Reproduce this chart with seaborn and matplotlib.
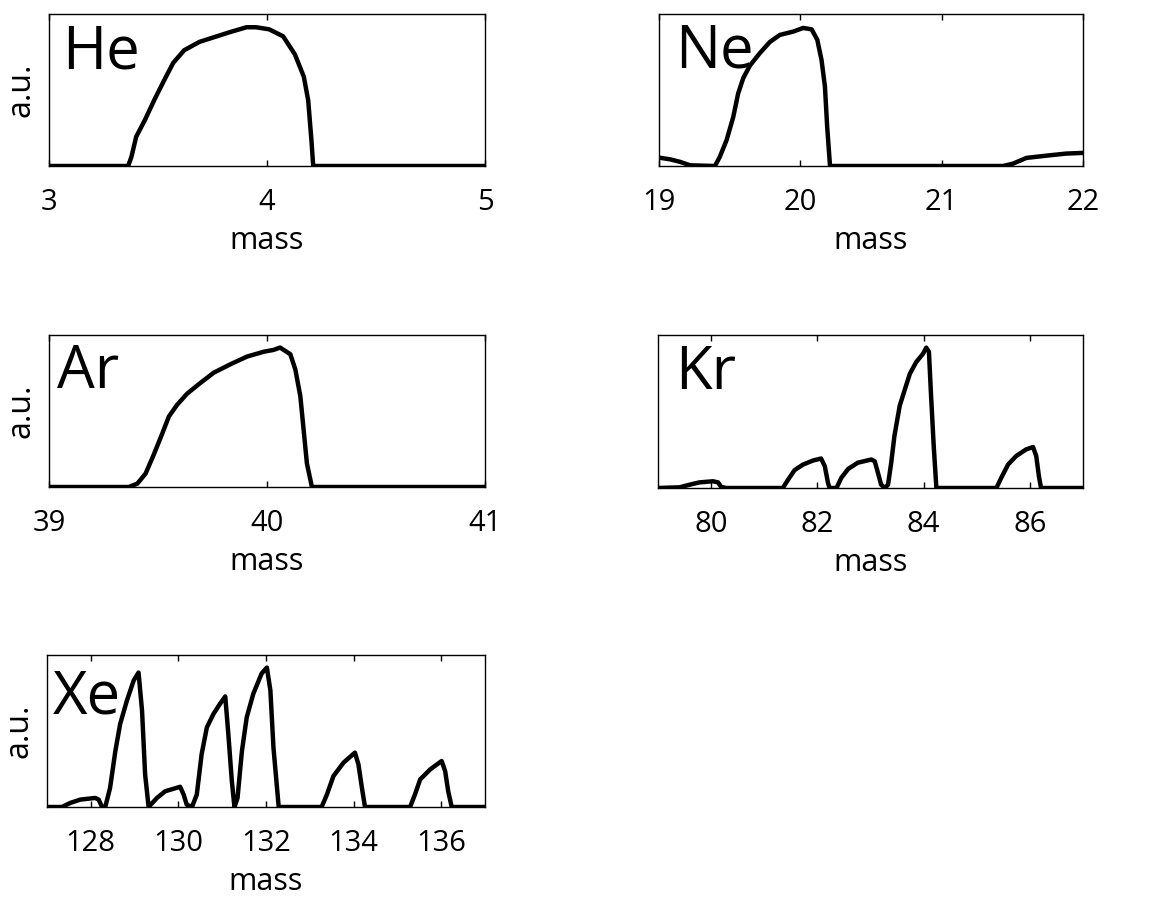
import numpy as np
import pandas as pd
import matplotlib
matplotlib.use("Agg")
import matplotlib.pyplot as plt
import seaborn as sns

# mass vs normalised intensity
he_mass = [3.0, 3.363, 3.378, 3.40, 3.44, 3.485, 3.53, 3.57, 3.62, 3.69, 3.75, 3.83, 3.906, 3.95, 4.01,
           4.074, 4.128, 4.169, 4.189, 4.204, 4.212, 5.0]
he_int = [0, 0, 0.065, 0.21, 0.33, 0.48, 0.62, 0.74, 0.83, 0.89, 0.92, 0.96, 0.995, 0.995, 0.98,
          0.93, 0.80, 0.64, 0.47, 0.18, 0, 0]

ne_mass = [19.0, 19.078, 19.148, 19.22, 19.396, 19.43, 19.478, 19.525, 19.56, 19.596, 19.643, 19.714,
           19.785, 19.855, 19.95, 20.02, 20.08, 20.12, 20.15, 20.174, 20.19, 20.21, 21.435, 21.505,
           21.6, 21.74, 21.88, 22.0]
ne_int = [0.06, 0.048, 0.03, 0.005, 0, 0.065, 0.185, 0.35, 0.52, 0.63, 0.72, 0.81,
          0.89, 0.94, 0.964, 0.99, 0.98, 0.905, 0.76, 0.57, 0.28, 0, 0, 0.017,
          0.058, 0.074, 0.089, 0.094]

ar_mass = [39.0, 39.366, 39.405, 39.443, 39.48, 39.52, 39.55, 39.588, 39.634, 39.695, 39.756, 39.832,
           39.908, 39.985, 40.03, 40.06, 40.107, 40.13, 40.153, 40.168, 40.183, 40.206, 41.0]
ar_int = [0, 0, 0.024, 0.096, 0.23, 0.385, 0.506, 0.59, 0.67, 0.747, 0.82, 0.88,
          0.935, 0.97, 0.983, 1.0, 0.952, 0.843, 0.65, 0.41, 0.17, 0, 0]

kr_mass = [79.0, 79.41, 79.6, 79.78, 80.035, 80.13, 80.19, 80.29, 81.35, 81.45, 81.57, 81.73, 81.92,
           82.07, 82.14, 82.2, 82.23, 82.36, 82.45, 82.58, 82.76, 83.015, 83.08, 83.14, 83.2, 83.27,
           83.33, 83.39, 83.45, 83.55, 83.64, 83.74, 83.86, 83.99, 84.05, 84.1, 84.14, 84.19, 84.24,
           85.37, 85.46, 85.59, 85.74, 85.93, 86.06, 86.12, 86.17, 86.21, 87.0]
kr_int = [0, 0.005, 0.024, 0.04, 0.048, 0.04, 0.007, 0, 0, 0.06, 0.127, 0.167, 0.196,
          0.21, 0.155, 0.036, 0, 0, 0.072, 0.136, 0.18, 0.203, 0.19, 0.108, 0.024, 0,
          0.024, 0.18, 0.37, 0.586, 0.694, 0.813, 0.897, 0.957, 1.0, 0.97, 0.658, 0.3, 0,
          0, 0.072, 0.167, 0.227, 0.275, 0.292, 0.227, 0.084, 0, 0]

xe_mass = [127.0, 127.34, 127.53, 127.76, 128.1, 128.18, 128.25, 128.33, 128.44, 128.56, 128.67,
           128.825, 128.98, 129.09, 129.17, 129.24, 129.32, 129.51, 129.7, 130.04, 130.12, 130.19,
           130.31, 130.42, 130.53, 130.65, 130.8, 130.95, 131.07, 131.14, 131.22, 131.28, 131.35,
           131.45, 131.56, 131.71, 131.9, 132.02, 132.1, 132.17, 132.29, 133.27, 133.39, 133.54,
           133.77, 134.03, 134.11, 134.19, 134.26, 135.29, 135.4, 135.52, 135.75, 136.01, 136.09,
           136.16, 136.24, 137.0]
xe_int = [0, 0, 0.029, 0.053, 0.065, 0.053, 0.005, 0, 0.137, 0.4, 0.595,
          0.764, 0.908, 0.964, 0.69, 0.234, 0, 0.065, 0.113, 0.145, 0.089, 0.017,
          0, 0.089, 0.378, 0.571, 0.667, 0.74, 0.793, 0.523, 0.186, 0, 0.065,
          0.4, 0.643, 0.812, 0.957, 1.0, 0.836, 0.427, 0, 0, 0.089, 0.222,
          0.318, 0.39, 0.306, 0.137, 0, 0, 0.089, 0.198, 0.27, 0.33, 0.258,
          0.113, 0, 0]

gases = ["He", "Ne", "Ar", "Kr", "Xe"]
masses = [he_mass, ne_mass, ar_mass, kr_mass, xe_mass]
ints = [he_int, ne_int, ar_int, kr_int, xe_int]
xlims = [(3, 5), (19, 22), (39, 41), (79, 87), (127, 137)]
xticks = [[3, 4, 5], [19, 20, 21, 22], [39, 40, 41], [80, 82, 84, 86], [128, 130, 132, 134, 136]]

sns.set_style("white")
plt.rcParams['font.family'] = ['Open Sans', 'DejaVu Sans']
plt.rcParams['text.color'] = 'black'
plt.rcParams['axes.labelcolor'] = 'black'
plt.rcParams['xtick.color'] = 'black'

fig = plt.figure(figsize=(11.58, 8.97), dpi=100)
W, H = 1158, 897
# axes boxes in pixels: left, top, right, bottom
boxes = [(49, 14, 485, 166), (659, 14, 1083, 166), (49, 335, 485, 487),
         (658, 335, 1083, 488), (47, 655, 485, 807)]
label_off = [(13, 9), (16, 8), (8, 7), (17, 8), (6, 13)]
show_ylabel = [True, False, True, False, True]

for i, g in enumerate(gases):
    l, t, r, b = boxes[i]
    ax = fig.add_axes([l / W, (H - b) / H, (r - l) / W, (b - t) / H])
    df = pd.DataFrame({"mass": masses[i], "signal": ints[i]})
    sns.lineplot(data=df, x="mass", y="signal", ax=ax, color="black", linewidth=3.2, sort=False)
    ax.set_xlim(*xlims[i])
    ax.set_ylim(0, 1.09)
    ax.set_xticks(xticks[i])
    ax.set_yticks([])
    ax.tick_params(axis="x", direction="in", length=4, width=1, top=True, bottom=True,
                   labelsize=21, pad=16, colors="black")
    ax.set_xlabel("mass", fontsize=22, labelpad=6)
    if show_ylabel[i]:
        ax.set_ylabel("a.u.", fontsize=23, labelpad=8)
    else:
        ax.set_ylabel("")
    for s in ax.spines.values():
        s.set_color("black")
        s.set_linewidth(1.0)
    ox, oy = label_off[i]
    ax.text(ox / (r - l), 1 - oy / (b - t), g, transform=ax.transAxes, fontsize=43,
            ha="left", va="top", color="black")

fig.savefig("out.png", dpi=100, facecolor="white")
